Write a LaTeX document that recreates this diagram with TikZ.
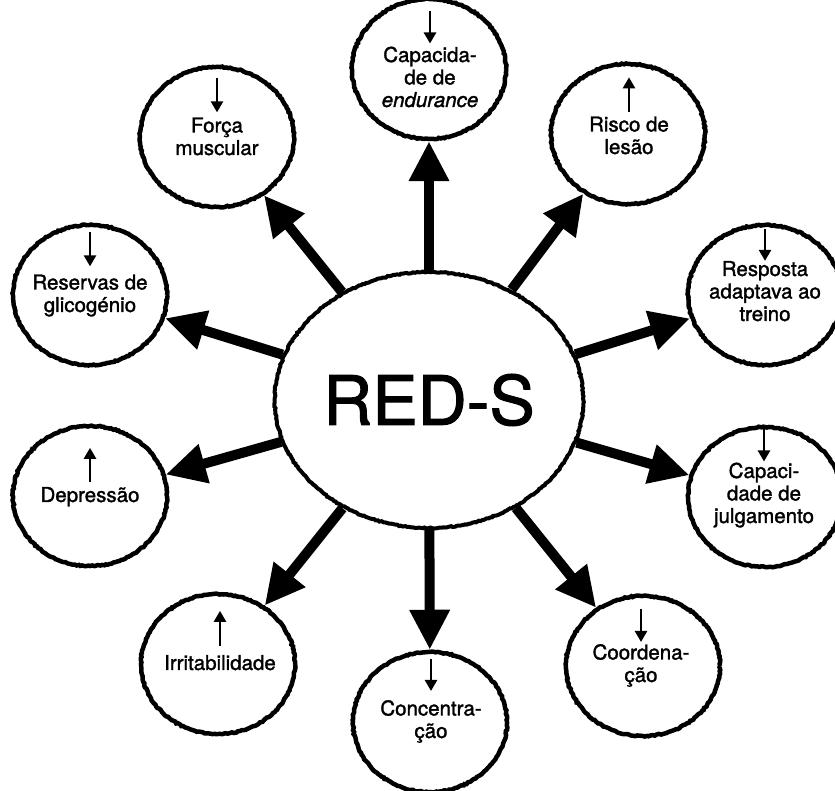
\documentclass[tikz,border=0pt]{standalone}
\usepackage{fontspec}
\setmainfont{TeX Gyre Heros}[FakeBold=1.5]
\usetikzlibrary{arrows.meta,shapes.geometric,decorations.pathmorphing}
\tikzset{
  rough/.style={decorate,decoration={random steps,segment length=2pt,amplitude=0.6pt}},
  effect/.style={ellipse,draw,fill=white,line width=4.5pt,rough,
    minimum width=154pt,minimum height=140pt,inner sep=0pt},
  cause/.style={ellipse,draw,fill=white,line width=4pt,rough,
    minimum width=292pt,minimum height=256pt,font=\fontsize{68}{70}\selectfont},
  lbl/.style={anchor=base,align=center,inner sep=0pt,font=\fontsize{20.5}{22.5}\selectfont},
  big/.style={line width=10pt,-{Triangle[length=40pt,width=38pt]}},
  tick/.style={line width=2.5pt,-{Triangle[length=11pt,width=12pt]}},
}
\begin{document}
\begin{tikzpicture}[x=1pt,y=1pt]
  \useasboundingbox (0,0) rectangle (835,791);
  % centre
  \node [cause] (reds) at (429,391) {RED-S};
  % the ten effects
  \node [effect] (endur) at (429,722) {};
  \node [effect] (forca) at (217,654) {};
  \node [effect] (risco) at (628,657) {};
  \node [effect] (resposta) at (765,496) {};
  \node [effect] (reservas) at (90,496) {};
  \node [effect] (depressao) at (90,295) {};
  \node [effect] (julgamento) at (765,294) {};
  \node [effect] (irrit) at (218,127) {};
  \node [effect] (concent) at (430,69) {};
  \node [effect] (coord) at (643,125) {};
  % their texts (base = last line)
  \node [lbl] (endurt) at (430,684) {Capacida-\\de de\\\emph{endurance}};
  \node [lbl] (forcat) at (217,636) {Força\\muscular};
  \node [lbl] (riscot) at (629,637) {Risco de\\lesão};
  \node [lbl] (respostat) at (765,470) {Resposta\\adaptava ao\\treino};
  \node [lbl] (reservast) at (90,479) {Reservas de\\glicogénio};
  \node [lbl] (depressaot) at (90,289) {Depressão};
  \node [lbl] (julgamentot) at (764,268) {Capaci-\\dade de\\julgamento};
  \node [lbl] (irritt) at (220,121) {Irritabilidade};
  \node [lbl] (concentt) at (431,53) {Concentra-\\ção};
  \node [lbl] (coordt) at (641,109) {Coordena-\\ção};
  % down and up marks
  \draw [tick] ([yshift=35pt]endurt.north) -- ([yshift=3pt]endurt.north);
  \draw [tick] ([yshift=39pt]forcat.north) -- ([yshift=5pt]forcat.north);
  \draw [tick] ([yshift=4pt]riscot.north) -- ([yshift=39pt]riscot.north);
  \draw [tick] ([yshift=32pt]respostat.north) -- ([yshift=0pt]respostat.north);
  \draw [tick] ([yshift=42pt]reservast.north) -- ([yshift=8pt]reservast.north);
  \draw [tick] ([yshift=5pt]depressaot.north) -- ([yshift=39pt]depressaot.north);
  \draw [tick] ([yshift=33pt]julgamentot.north) -- ([yshift=1pt]julgamentot.north);
  \draw [tick] ([yshift=9pt]irritt.north) -- ([yshift=44pt]irritt.north);
  \draw [tick] ([yshift=41pt]concentt.north) -- ([yshift=9pt]concentt.north);
  \draw [tick] ([yshift=35pt]coordt.north) -- ([yshift=2pt]coordt.north);
  % big arrows out of the centre
  \foreach \e in {endur,forca,risco,resposta,reservas,depressao,julgamento,irrit,concent,coord}
    \draw [big] (reds) -- (\e);
\end{tikzpicture}
\end{document}
